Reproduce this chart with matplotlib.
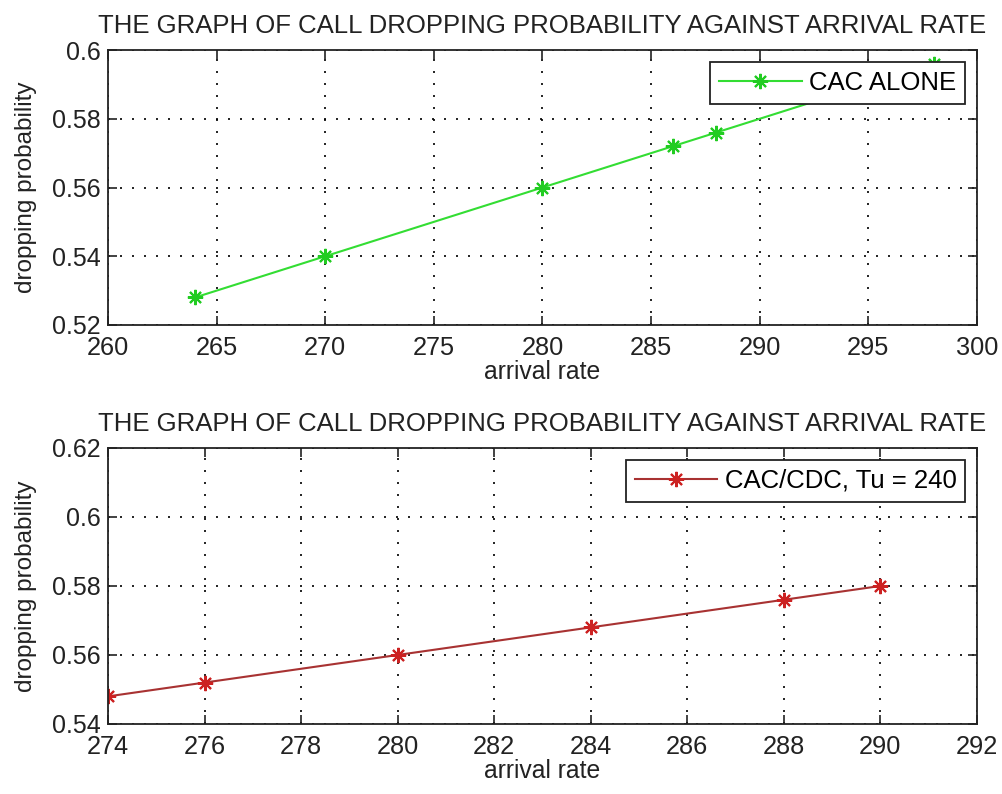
import matplotlib
matplotlib.use("Agg")
import matplotlib.pyplot as plt
from matplotlib.ticker import FuncFormatter
from matplotlib import font_manager

# Data
rate_cac = [264, 270, 280, 286, 288, 298]
drop_cac = [0.528, 0.540, 0.560, 0.572, 0.576, 0.596]
rate_cdc = [274, 276, 280, 284, 288, 290]
drop_cdc = [0.548, 0.552, 0.560, 0.568, 0.576, 0.580]

title = "THE GRAPH OF CALL DROPPING PROBABILITY AGAINST ARRIVAL RATE"
xticks_top = [260, 265, 270, 275, 280, 285, 290, 295, 300]
yticks_top = [0.52, 0.54, 0.56, 0.58, 0.60]
xticks_bot = [274, 276, 278, 280, 282, 284, 286, 288, 290, 292]
yticks_bot = [0.54, 0.56, 0.58, 0.60, 0.62]

plt.rcParams['font.family'] = ['Liberation Sans', 'DejaVu Sans']
names = {f.name for f in font_manager.fontManager.ttflist}
narrow = 'Liberation Sans Narrow' if 'Liberation Sans Narrow' in names else 'Liberation Sans'
nscale = 1.0 if narrow == 'Liberation Sans Narrow' else 0.85

TXT = '#222222'
fig = plt.figure(figsize=(10.02, 7.94), dpi=100)
ax1 = fig.add_axes([0.1078, 0.5907, 0.8672, 0.3463])
ax2 = fig.add_axes([0.1078, 0.0882, 0.8672, 0.3476])

fmt = FuncFormatter(lambda v, p: ('%g' % round(v, 4)))
star = (8, 2, 0)

def style(ax, xt, yt):
    ax.set_xticks(xt)
    ax.set_yticks(yt)
    ax.set_xlim(xt[0], xt[-1])
    ax.set_ylim(yt[0], yt[-1])
    ax.yaxis.set_major_formatter(fmt)
    ax.grid(True, linestyle=(0, (1.2, 6.0)), color='black', linewidth=1.2)
    ax.tick_params(direction='in', length=6.5, width=1.2, top=True, right=True,
                   colors=TXT)
    ax.tick_params(axis='y', labelsize=18, pad=5)
    ax.tick_params(axis='x', pad=8)
    for lab in ax.get_xticklabels():
        lab.set_fontfamily(narrow)
        lab.set_fontsize(21.5 * nscale)
    for s in ax.spines.values():
        s.set_linewidth(1.3)
        s.set_color(TXT)
    ax.set_xlabel('arrival rate', fontsize=21 * nscale, family=narrow,
                  color=TXT, labelpad=0)
    ax.set_ylabel('dropping probability', fontsize=17.5, color=TXT, labelpad=11)
    ax.set_title(title, fontsize=18.5, color=TXT, pad=12)

ax1.plot(rate_cac, drop_cac, color='#33dd33', linewidth=1.5, marker=star,
         markersize=11, markeredgewidth=1.5, markeredgecolor='#22cc22',
         label='CAC ALONE')
style(ax1, xticks_top, yticks_top)

ax2.plot(rate_cdc, drop_cdc, color='#a83232', linewidth=1.5, marker=star,
         markersize=11, markeredgewidth=1.5, markeredgecolor='#cc2222',
         label='CAC/CDC, Tu = 240')
style(ax2, xticks_bot, yticks_bot)

for ax in (ax1, ax2):
    leg = ax.legend(loc='upper right', fontsize=18.5, fancybox=False,
                    framealpha=1, edgecolor=TXT, handlelength=3.2,
                    borderaxespad=0.45, borderpad=0.35, handletextpad=0.3)
    leg.get_frame().set_linewidth(1.3)

fig.savefig('out.png', dpi=100)
